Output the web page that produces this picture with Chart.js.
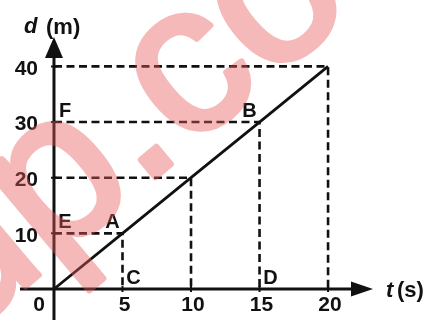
<!DOCTYPE html>
<html>
<head>
<meta charset="utf-8">
<script src="https://cdn.jsdelivr.net/npm/chart.js@4"></script>
<style>
  html, body { margin: 0; padding: 0; background: #fff; }
  #wrap { width: 430px; height: 320px; }
</style>
</head>
<body>
<div id="wrap"><canvas id="dtChart"></canvas></div>
<script>
// d-t graph data
const times = [0, 5, 10, 15, 20];        // t (s)
const distances = [0, 10, 20, 30, 40];   // d (m)
const xTicks = [5, 10, 15, 20];
const yTicks = [10, 20, 30, 40];
const pointNames = ['A', 'B', 'C', 'D', 'E', 'F'];
const pointT = [5, 15, 5, 15, 0, 0];
const pointD = [10, 30, 0, 0, 10, 30];
const watermark = 'up.co';

const FONT = '"Liberation Sans", Arial, sans-serif';

// dashed guide lines: y axis -> point -> x axis
const guides = times.slice(1).map((t, i) => ({
    data: [{ x: 0, y: distances[i + 1] }, { x: t, y: distances[i + 1] }, { x: t, y: 0 }],
    showLine: true,
    borderColor: '#111',
    borderWidth: 2.6,
    borderDash: [8, 4.5],
    pointRadius: 0,
    fill: false
}));

const drawingPlugin = {
    id: 'drawing',
    beforeDatasetsDraw(chart) {
        const { ctx, chartArea, scales } = chart;
        const x = scales.x, y = scales.y;
        const x0 = x.getPixelForValue(0), y0 = y.getPixelForValue(0);
        ctx.save();
        ctx.strokeStyle = '#111';
        ctx.fillStyle = '#111';
        ctx.lineWidth = 3;
        // axes
        ctx.beginPath();
        ctx.moveTo(chartArea.left, y0);
        ctx.lineTo(chartArea.right - 16, y0);
        ctx.moveTo(x0, chartArea.bottom);
        ctx.lineTo(x0, chartArea.top + 16);
        ctx.stroke();
        // arrow heads
        ctx.beginPath();
        ctx.moveTo(chartArea.right, y0);
        ctx.lineTo(chartArea.right - 22, y0 - 7.5);
        ctx.lineTo(chartArea.right - 22, y0 + 7.5);
        ctx.closePath();
        ctx.fill();
        ctx.beginPath();
        ctx.moveTo(x0, chartArea.top);
        ctx.lineTo(x0 - 9, chartArea.top + 21);
        ctx.lineTo(x0 + 9, chartArea.top + 21);
        ctx.closePath();
        ctx.fill();
        // small ticks
        ctx.lineWidth = 2;
        ctx.beginPath();
        yTicks.forEach(v => {
            const py = y.getPixelForValue(v);
            ctx.moveTo(x0 - 3, py);
            ctx.lineTo(x0 + 3, py);
        });
        xTicks.forEach(v => {
            const px = x.getPixelForValue(v);
            ctx.moveTo(px, y0 - 3);
            ctx.lineTo(px, y0 + 3);
        });
        ctx.stroke();
        ctx.restore();
    },
    afterDatasetsDraw(chart) {
        const { ctx, scales } = chart;
        const x = scales.x, y = scales.y;
        const x0 = x.getPixelForValue(0), y0 = y.getPixelForValue(0);
        ctx.save();
        ctx.fillStyle = '#111';
        ctx.font = 'bold 21px ' + FONT;
        ctx.textBaseline = 'middle';
        // tick labels
        ctx.textAlign = 'right';
        yTicks.forEach(v => ctx.fillText(String(v), x0 - 16, y.getPixelForValue(v) + 2.5));
        ctx.textAlign = 'center';
        xTicks.forEach(v => ctx.fillText(String(v), x.getPixelForValue(v) + 2, y0 + 16));
        ctx.fillText('0', x0 - 15, y0 + 16);
        // point labels
        ctx.font = 'bold 20px ' + FONT;
        pointNames.forEach((name, i) => {
            const onLine = pointT[i] > 0 && pointD[i] > 0;
            const px = x.getPixelForValue(pointT[i]) + (onLine ? -10 : 11);
            const py = y.getPixelForValue(pointD[i]) - 11;
            ctx.fillText(name, px, py);
        });
        // axis titles
        ctx.textAlign = 'left';
        ctx.textBaseline = 'alphabetic';
        ctx.font = 'italic bold 22px ' + FONT;
        ctx.fillText('d', 24, 33);
        ctx.fillText('t', 386, 297);
        ctx.font = 'bold 22px ' + FONT;
        ctx.fillText('(m)', 46, 34);
        ctx.fillText('(s)', 397, 297);
        ctx.restore();
    },
    afterDraw(chart) {
        // faded red watermark laid over the figure
        const { ctx, width, height } = chart;
        const off = document.createElement('canvas');
        off.width = width;
        off.height = height;
        const oc = off.getContext('2d');
        oc.translate(-41, 342);
        oc.rotate(-40 * Math.PI / 180);
        oc.font = '213px ' + FONT;
        oc.fillStyle = '#e65a5a';
        oc.strokeStyle = '#e65a5a';
        oc.lineWidth = 6;
        oc.lineJoin = 'round';
        oc.fillText(watermark, 0, 0);
        oc.strokeText(watermark, 0, 0);
        ctx.save();
        ctx.globalAlpha = 0.42;
        ctx.drawImage(off, 0, 0, width, height);
        ctx.restore();
    }
};

new Chart(document.getElementById('dtChart'), {
    type: 'scatter',
    data: {
        datasets: [
            ...guides,
            {
                data: times.map((t, i) => ({ x: t, y: distances[i] })),
                showLine: true,
                borderColor: '#111',
                borderWidth: 2.8,
                pointRadius: 0,
                fill: false
            }
        ]
    },
    options: {
        responsive: true,
        maintainAspectRatio: false,
        animation: false,
        layout: { padding: { left: 20, right: 57, top: 37, bottom: 0 } },
        plugins: {
            legend: { display: false },
            tooltip: { enabled: false }
        },
        scales: {
            x: { type: 'linear', display: false, min: -2.48, max: 23.28 },
            y: { type: 'linear', display: false, min: -5.57, max: 45.28 }
        }
    },
    plugins: [drawingPlugin]
});
</script>
</body>
</html>
